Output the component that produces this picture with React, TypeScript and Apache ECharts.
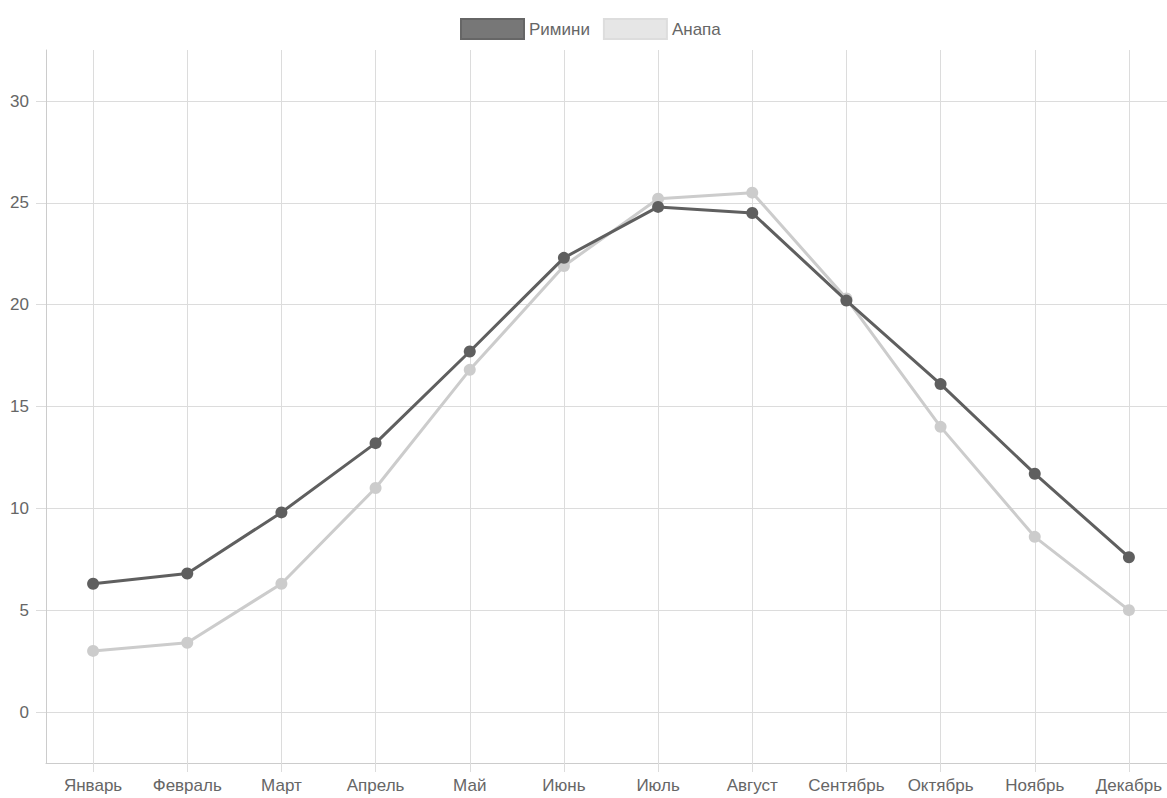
import React, { useEffect, useRef } from "react";
import * as echarts from "echarts";

const months = ["Январь", "Февраль", "Март", "Апрель", "Май", "Июнь", "Июль", "Август", "Сентябрь", "Октябрь", "Ноябрь", "Декабрь"];
const rimini = [6.3, 6.8, 9.8, 13.2, 17.7, 22.3, 24.8, 24.5, 20.2, 16.1, 11.7, 7.6];
const anapa = [3.0, 3.4, 6.3, 11.0, 16.8, 21.9, 25.2, 25.5, 20.3, 14.0, 8.6, 5.0];
const seriesNames = ["Римини", "Анапа"];

const FONT = "'Liberation Sans', Arial, Helvetica, sans-serif";
const GRID_COLOR = "#dcdcdc";
const FS = 17;

export default function App() {
  const ref = useRef<HTMLDivElement>(null);
  useEffect(() => {
    if (!ref.current) return;
    const chart = echarts.init(ref.current, undefined, { renderer: "svg" });
    chart.setOption({
      animation: false,
      backgroundColor: "#ffffff",
      textStyle: { fontFamily: FONT },
      legend: {
        left: 455,
        top: 13,
        itemWidth: 63,
        itemHeight: 20,
        itemGap: 13,
        icon: "rect",
        textStyle: { color: "#666666", fontSize: FS, fontFamily: FONT },
        data: [
          { name: seriesNames[0], itemStyle: { color: "#777777", borderColor: "#666666", borderWidth: 2 } },
          { name: seriesNames[1], itemStyle: { color: "#e6e6e6", borderColor: "#dddddd", borderWidth: 2 } },
        ],
      },
      grid: [
        { left: 46, right: 11, top: 50, bottom: 35 },
        { left: 46, right: 11, top: 101, bottom: 86 },
      ],
      xAxis: [
        {
          gridIndex: 0,
          type: "category",
          data: months,
          boundaryGap: true,
          axisLine: { show: true, lineStyle: { color: "#cccccc", width: 1 } },
          axisTick: { show: true, alignWithLabel: true, length: 9, lineStyle: { color: GRID_COLOR } },
          splitLine: { show: true, alignWithLabel: true, lineStyle: { color: GRID_COLOR, width: 1 } },
          axisLabel: { color: "#666666", fontSize: FS, margin: 14, fontFamily: FONT, interval: 0 },
        },
        {
          gridIndex: 1,
          type: "category",
          data: months,
          boundaryGap: true,
          show: false,
        },
      ],
      yAxis: [
        {
          gridIndex: 0,
          type: "value",
          min: 0,
          max: 1,
          axisLine: { show: true, lineStyle: { color: "#cccccc", width: 1 } },
          axisTick: { show: false },
          axisLabel: { show: false },
          splitLine: { show: false },
        },
        {
          gridIndex: 1,
          type: "value",
          min: 0,
          max: 30,
          interval: 5,
          axisLine: { show: false },
          axisTick: { show: true, length: 10, lineStyle: { color: GRID_COLOR } },
          axisLabel: { color: "#666666", fontSize: FS, margin: 17, fontFamily: FONT },
          splitLine: { show: true, lineStyle: { color: GRID_COLOR, width: 1 } },
        },
      ],
      series: [
        {
          name: seriesNames[1],
          type: "line",
          xAxisIndex: 1,
          yAxisIndex: 1,
          data: anapa,
          symbol: "circle",
          symbolSize: 12,
          clip: false,
          lineStyle: { color: "#cccccc", width: 3 },
          itemStyle: { color: "#cccccc" },
          z: 2,
        },
        {
          name: seriesNames[0],
          type: "line",
          xAxisIndex: 1,
          yAxisIndex: 1,
          data: rimini,
          symbol: "circle",
          symbolSize: 12,
          clip: false,
          lineStyle: { color: "#5f5f5f", width: 3 },
          itemStyle: { color: "#5f5f5f" },
          z: 3,
        },
      ],
    });
    return () => chart.dispose();
  }, []);
  return (
    <div
      style={{ position: "absolute", left: 0, top: 0, width: 1167, height: 798, overflow: "hidden" }}
    >
      <div ref={ref} style={{ width: 1187, height: 798 }} />
    </div>
  );
}
